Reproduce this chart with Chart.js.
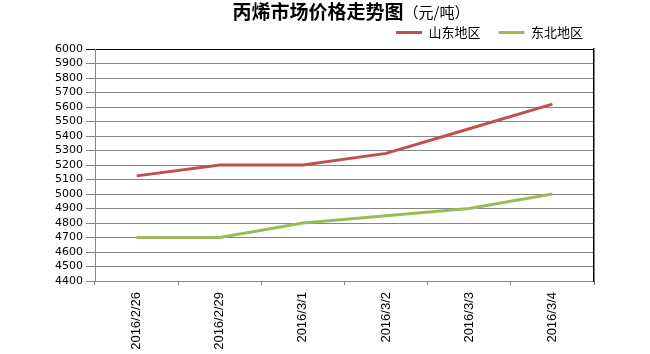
<!DOCTYPE html>
<html>
<head>
<meta charset="utf-8">
<script src="https://cdn.jsdelivr.net/npm/chart.js@4/dist/chart.umd.min.js"></script>
<style>
html,body{margin:0;padding:0;background:#fff;}
#wrap{width:650px;height:354px;position:relative;}
</style>
</head>
<body>
<div id="wrap"><canvas id="c" width="650" height="354"></canvas></div>
<script>
const categories = ['2016/2/26', '2016/2/29', '2016/3/1', '2016/3/2', '2016/3/3', '2016/3/4'];
const shandong = [5125, 5200, 5200, 5280, 5450, 5620];
const dongbei = [4700, 4700, 4800, 4850, 4900, 5000];
const seriesNames = ['山东地区', '东北地区'];
const titleMain = '丙烯市场价格走势图';
const titleUnit = '（元/吨）';
const yMin = 4400, yMax = 6000, yStep = 100;

const titlePlugin = {
  id: 'customTitle',
  afterDraw(chart) {
    const ctx = chart.ctx;
    ctx.save();
    ctx.fillStyle = '#000';
    ctx.textBaseline = 'middle';
    ctx.font = 'bold 19px "Noto Sans CJK SC"';
    const w1 = ctx.measureText(titleMain).width;
    ctx.font = '15px "Noto Sans CJK SC"';
    const w2 = ctx.measureText(titleUnit).width;
    const cx = 351;
    let x = cx - (w1 + w2) / 2;
    ctx.font = 'bold 19px "Noto Sans CJK SC"';
    ctx.fillText(titleMain, x, 12);
    ctx.font = '15px "Noto Sans CJK SC"';
    ctx.fillText(titleUnit, x + w1, 12);
    ctx.restore();
  }
};

new Chart(document.getElementById('c'), {
  type: 'line',
  data: {
    labels: categories,
    datasets: [
      { label: seriesNames[0], data: shandong, borderColor: '#C0504D', backgroundColor: '#C0504D', borderWidth: 3, pointRadius: 0, tension: 0, fill: false },
      { label: seriesNames[1], data: dongbei, borderColor: '#9BBB59', backgroundColor: '#9BBB59', borderWidth: 3, pointRadius: 0, tension: 0, fill: false }
    ]
  },
  options: {
    responsive: false,
    animation: false,
    layout: { padding: { top: 8, left: 0, right: 49, bottom: 0 } },
    plugins: {
      title: { display: false },
      tooltip: { enabled: false },
      legend: {
        display: true,
        position: 'top',
        align: 'end',
        labels: {
          usePointStyle: true,
          pointStyle: 'line',
          pointStyleWidth: 26,
          padding: 18,
          color: '#000',
          font: { family: '"Noto Sans CJK SC"', size: 13 }
        }
      }
    },
    scales: {
      x: {
        offset: true,
        grid: { offset: true, drawOnChartArea: false, color: '#868686', tickLength: 4 },
        border: { color: '#868686', width: 1 },
        ticks: {
          minRotation: 90, maxRotation: 90, autoSkip: false, padding: 7,
          color: '#000', font: { family: '"Liberation Sans"', size: 13 }
        },
        afterFit(scale) { scale.height = 73; }
      },
      y: {
        min: yMin, max: yMax,
        grid: {
          color: (c) => (c.tick && c.tick.value === yMax ? '#000' : '#868686'),
          tickLength: 9
        },
        border: { color: '#868686', width: 1 },
        ticks: {
          stepSize: yStep, autoSkip: false, padding: 3, color: '#000',
          font: { family: '"DejaVu Sans"', size: 11 },
          callback: (v) => String(v)
        },
        afterFit(scale) { scale.width = 95; }
      },
      y2: {
        position: 'right',
        display: true,
        grid: { drawOnChartArea: false, drawTicks: false },
        border: { color: '#000', width: 1.5 },
        ticks: { display: false },
        afterFit(scale) { scale.width = 7; }
      }
    }
  },
  plugins: [titlePlugin]
});
</script>
</body>
</html>
